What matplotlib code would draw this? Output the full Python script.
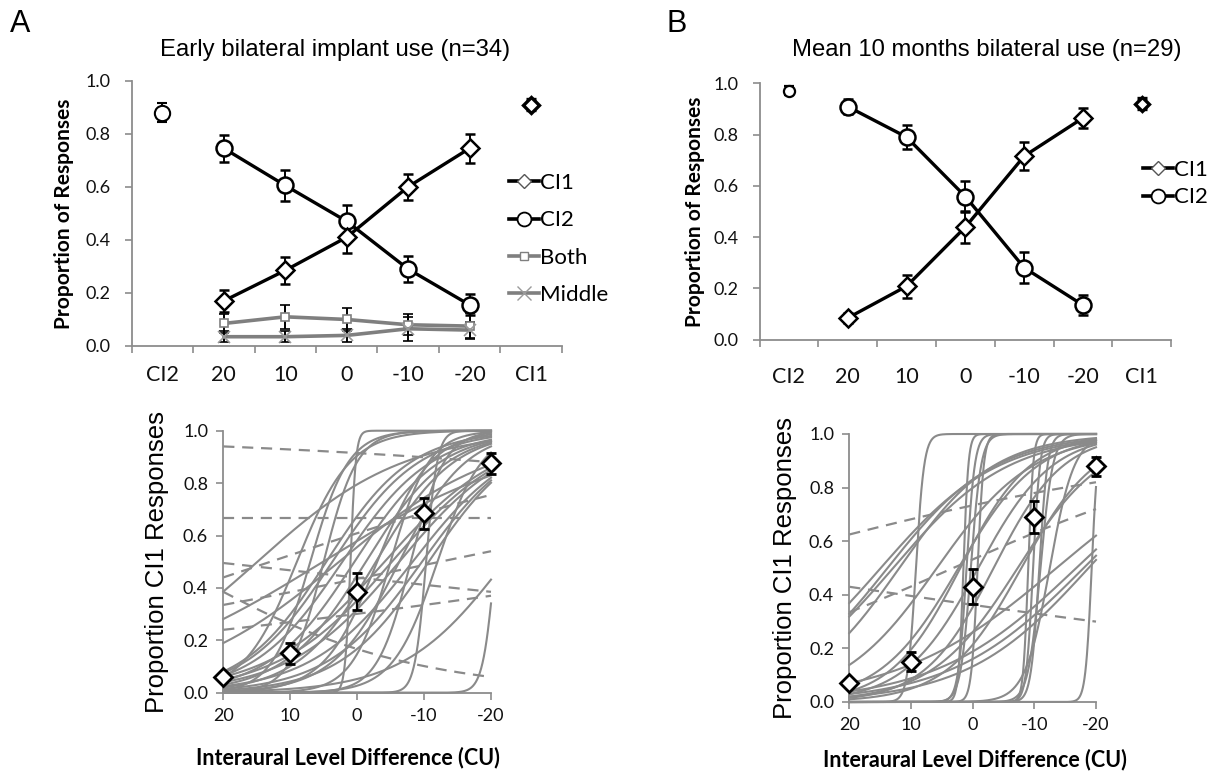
import numpy as np
import matplotlib
matplotlib.use("Agg")
import matplotlib.pyplot as plt
from matplotlib.lines import Line2D
from matplotlib.ticker import FixedLocator, FixedFormatter, NullFormatter, FormatStrFormatter

# ---------------------------------------------------------------- data
categories = ["CI2", "20", "10", "0", "-10", "-20", "CI1"]
ild_levels = [20, 10, 0, -10, -20]

# Panel A, response proportions per ILD (CU)
a_ci1 = [0.17, 0.285, 0.41, 0.60, 0.745]
a_ci1_err = [0.04, 0.05, 0.06, 0.05, 0.055]
a_ci2 = [0.745, 0.605, 0.47, 0.29, 0.155]
a_ci2_err = [0.05, 0.06, 0.06, 0.05, 0.04]
a_both = [0.085, 0.11, 0.10, 0.08, 0.075]
a_both_err = [0.035, 0.045, 0.045, 0.04, 0.05]
a_middle = [0.035, 0.035, 0.04, 0.065, 0.06]
a_middle_err = [0.02, 0.02, 0.025, 0.045, 0.03]
a_ci2_alone, a_ci2_alone_err = 0.88, 0.037
a_ci1_alone, a_ci1_alone_err = 0.91, 0.02

# Panel B, response proportions per ILD (CU)
b_ci1 = [0.084, 0.208, 0.439, 0.716, 0.865]
b_ci1_err = [0.02, 0.045, 0.064, 0.055, 0.04]
b_ci2 = [0.909, 0.79, 0.558, 0.28, 0.134]
b_ci2_err = [0.03, 0.047, 0.06, 0.06, 0.04]
b_ci2_alone, b_ci2_alone_err = 0.971, 0.018
b_ci1_alone, b_ci1_alone_err = 0.92, 0.022

# Group mean proportion of CI1 responses
a_mean = [0.06, 0.15, 0.385, 0.685, 0.875]
a_mean_err = [0.01, 0.04, 0.07, 0.06, 0.04]
b_mean = [0.07, 0.15, 0.43, 0.69, 0.88]
b_mean_err = [0.01, 0.035, 0.065, 0.06, 0.035]

# Individual logistic fits: 50% point (ILD, CU) and slope (per CU)
a_fit_mid = [14.9, 5.1, 2.7, 4.6, 3.7, 2.2, -4.1, -5.2, 0.4, -6.3, -1.3, -8.3,
             -2.8, -9.7, -10.7, -6.3, -22.1, 1.0, -10.3, -20.6, 7.0, 5.0,
             -5.0, -8.0, -3.0, -12.0, 9.0]
a_fit_slope = [0.091, 0.063, 0.084, 0.158, 0.154, 0.15, 0.114, 0.117, 0.156,
               0.121, 0.163, 0.13, 0.171, 0.141, 0.15, 0.201, 0.131, 2.5, 1.2,
               1.1, 0.35, 0.4, 0.35, 0.4, 0.25, 0.3, 0.25]
# Shallow fits: proportion at ILD 20 and at ILD -20
a_flat_start = [0.94, 0.665, 0.44, 0.335, 0.385, 0.495, 0.24]
a_flat_end = [0.88, 0.665, 0.755, 0.54, 0.06, 0.385, 0.37]

b_fit_mid = [14.9, 13.8, 12.9, 11.9, 5.8, -13.6, -16.8, -18.0, -18.8, 2.3, 2.0,
             -0.9, -7.3, -3.4, -7.9, 9.2, 1.5, 1.0, 0.3, -0.8, -9.0, -9.8,
             -11.0, -12.5, -10.8, -19.3]
b_fit_slope = [0.105, 0.115, 0.107, 0.131, 0.129, 0.077, 0.087, 0.092, 0.10,
               0.156, 0.177, 0.167, 0.143, 0.178, 0.165, 1.5, 2.5, 1.5, 1.2,
               2.0, 2.5, 1.8, 1.0, 0.5, 1.5, 2.0]
b_flat_start = [0.625, 0.43, 0.335]
b_flat_end = [0.82, 0.30, 0.72]

# ---------------------------------------------------------------- style
W, H = 1208, 771
CAL = "Lato"
ARIAL = "Liberation Sans"
GREY = "#8a8a8a"
SPINE = "#8c8c8c"
INK = "#111111"

fig = plt.figure(figsize=(W / 100, H / 100), dpi=100)


def px_axes(x0, y0, x1, y1):
    """Axes from pixel box (left, top, right, bottom)."""
    return fig.add_axes([x0 / W, 1 - y1 / H, (x1 - x0) / W, (y1 - y0) / H])


def style_common(ax):
    for s in ("top", "right"):
        ax.spines[s].set_visible(False)
    for s in ("left", "bottom"):
        ax.spines[s].set_color(SPINE)
        ax.spines[s].set_linewidth(1.3)
    ax.set_ylim(0, 1)
    ax.set_yticks(np.arange(0, 1.01, 0.2))
    ax.yaxis.set_major_formatter(FormatStrFormatter("%.1f"))


def style_top(ax, xlab_pad):
    style_common(ax)
    ax.set_xlim(0, 7)
    ax.xaxis.set_major_locator(FixedLocator(range(8)))
    ax.xaxis.set_major_formatter(NullFormatter())
    ax.xaxis.set_minor_locator(FixedLocator(np.arange(7) + 0.5))
    ax.xaxis.set_minor_formatter(FixedFormatter(categories))
    ax.tick_params(axis="x", which="major", length=5, width=1.2, color=SPINE)
    ax.tick_params(axis="x", which="minor", length=0, pad=xlab_pad,
                   labelsize=15.5, labelcolor=INK)
    ax.tick_params(axis="y", length=5, width=1.2, color=SPINE, pad=10,
                   labelsize=13, labelcolor=INK)
    for t in ax.get_xminorticklabels() + ax.get_yticklabels():
        t.set_fontfamily(CAL)
    ax.set_ylabel("Proportion of Responses", fontfamily=CAL, fontweight="bold",
                  fontsize=15)
    ax.yaxis.label.set_va("center")
    ax.yaxis.set_label_coords(-0.157, 0.5)


def line_err(ax, x, y, e, marker, color="black", lw=2.4, ms=10, mfc="white",
             mec="black", mew=1.8, zorder=3):
    ax.errorbar(x, y, yerr=e, color=color, lw=lw, marker=marker, ms=ms,
                mfc=mfc, mec=mec, mew=mew, ecolor="black", elinewidth=1.4,
                capsize=3.5, capthick=1.4, zorder=zorder, clip_on=False)


xc = np.arange(7) + 0.5
xi = xc[1:6]

# ---------------------------------------------------------------- panel A top
axA = px_axes(131.7, 80.7, 561.7, 346)
style_top(axA, 14)
line_err(axA, xi, a_both, a_both_err, "s", color="#7f7f7f", lw=2.6, ms=6,
         mec="#7f7f7f", mew=1.2, zorder=2)
line_err(axA, xi, a_middle, a_middle_err, "x", color="#7f7f7f", lw=2.6, ms=8,
         mec="#9a9a9a", mew=1.2, zorder=2)
line_err(axA, xi, a_ci2, a_ci2_err, "o", ms=11.5)
line_err(axA, xi, a_ci1, a_ci1_err, "D", ms=9.5)
line_err(axA, [xc[0]], [a_ci2_alone], [a_ci2_alone_err], "o", lw=0, ms=11,
         mew=1.5)
line_err(axA, [xc[6]], [a_ci1_alone], [a_ci1_alone_err], "D", lw=0, ms=8,
         mew=2.4)

hA = [Line2D([], [], color="black", lw=2.6, marker="D", ms=7, mfc="white",
             mec="#555555", mew=1.0),
      Line2D([], [], color="black", lw=2.6, marker="o", ms=10, mfc="white",
             mec="black", mew=1.3),
      Line2D([], [], color="#7f7f7f", lw=2.6, marker="s", ms=6, mfc="white",
             mec="#7f7f7f", mew=1.0),
      Line2D([], [], color="#7f7f7f", lw=2.6, marker="x", ms=10,
             mec="#9a9a9a", mew=1.0)]
axA.legend(hA, ["CI1", "CI2", "Both", "Middle"], loc="upper left",
           bbox_to_anchor=(509 / W, 1 - 173 / H),
           bbox_transform=fig.transFigure, frameon=False,
           prop={"family": CAL, "size": 16}, labelspacing=0.78,
           handlelength=1.35, handletextpad=0.05, borderpad=0,
           borderaxespad=0)

# ---------------------------------------------------------------- panel B top
axB = px_axes(759.5, 83.3, 1171.3, 339.5)
style_top(axB, 20)
line_err(axB, xi, b_ci2, b_ci2_err, "o", ms=11.5)
line_err(axB, xi, b_ci1, b_ci1_err, "D", ms=9.5)
line_err(axB, [xc[0]], [b_ci2_alone], [b_ci2_alone_err], "o", lw=0, ms=8,
         mew=1.6)
line_err(axB, [xc[6]], [b_ci1_alone], [b_ci1_alone_err], "D", lw=0, ms=7.5,
         mew=2.4)

axB.legend(hA[:2], ["CI1", "CI2"], loc="upper left",
           bbox_to_anchor=(1143 / W, 1 - 160 / H),
           bbox_transform=fig.transFigure, frameon=False,
           prop={"family": CAL, "size": 16}, labelspacing=0.33,
           handlelength=1.35, handletextpad=0.05, borderpad=0,
           borderaxespad=0)

# ---------------------------------------------------------------- bottom panels
ild = np.linspace(20, -20, 600)


def logistic(x, mid, slope):
    return 1.0 / (1.0 + np.exp(slope * (x - mid)))


def shallow_fit(x, y_start, y_end):
    l0 = np.log(y_start / (1 - y_start))   # logit at ILD 20
    l1 = np.log(y_end / (1 - y_end))       # logit at ILD -20
    slope = (l1 - l0) / 40.0
    if abs(slope) < 1e-9:
        return np.full_like(x, y_start)
    mid = (l0 + l1) / (2 * slope)
    return logistic(x, mid, slope)


def style_bottom(ax, xlab_x, xlab_y, ylab_x):
    style_common(ax)
    ax.set_xlim(20, -20)
    ax.set_xticks(ild_levels)
    ax.set_xticklabels([str(v) for v in ild_levels])
    ax.tick_params(axis="both", length=5, width=1.2, color=SPINE,
                   labelsize=13, labelcolor=INK)
    ax.tick_params(axis="x", pad=6)
    ax.tick_params(axis="y", pad=6)
    for t in ax.get_xticklabels() + ax.get_yticklabels():
        t.set_fontfamily(CAL)
    ax.set_xlabel("Interaural Level Difference (CU)", fontfamily=CAL,
                  fontweight="bold", fontsize=15.5)
    ax.xaxis.label.set_va("center")
    ax.xaxis.set_label_coords(xlab_x, xlab_y)
    ax.set_ylabel("Proportion CI1 Responses", fontfamily=ARIAL, fontsize=18.5)
    ax.yaxis.label.set_va("center")
    ax.yaxis.set_label_coords(ylab_x, 0.5)


def draw_fits(ax, mids, slopes, starts, ends, mean, mean_err):
    for m, k in zip(mids, slopes):
        ax.plot(ild, logistic(ild, m, k), color=GREY, lw=1.5, zorder=2,
                clip_on=False)
    for s, e in zip(starts, ends):
        ax.plot(ild, shallow_fit(ild, s, e), color=GREY, lw=1.6,
                ls=(0, (5, 3.5)), zorder=2, clip_on=False)
    ax.errorbar(ild_levels, mean, yerr=mean_err, color="black", lw=0,
                marker="D", ms=9, mfc="white", mec="black", mew=2.0,
                ecolor="black", elinewidth=1.6, capsize=3.5, capthick=1.6,
                zorder=4, clip_on=False)


axC = px_axes(223.3, 430.7, 491, 692.7)
style_bottom(axC, 0.466, -0.248, -0.248)
draw_fits(axC, a_fit_mid, a_fit_slope, a_flat_start, a_flat_end,
          a_mean, a_mean_err)

axD = px_axes(849.3, 434, 1096, 702)
style_bottom(axD, 0.51, -0.215, -0.26)
draw_fits(axD, b_fit_mid, b_fit_slope, b_flat_start, b_flat_end,
          b_mean, b_mean_err)

# ---------------------------------------------------------------- titles
fig.text(335 / W, 1 - 50 / H, "Early bilateral implant use (n=34)",
         fontfamily=ARIAL, fontsize=17.2, ha="center", va="center")
fig.text(987 / W, 1 - 50 / H, "Mean 10 months bilateral use (n=29)",
         fontfamily=ARIAL, fontsize=17.2, ha="center", va="center")
fig.text(20 / W, 1 - 24 / H, "A", fontfamily=ARIAL, fontsize=22,
         ha="center", va="center")
fig.text(677 / W, 1 - 24 / H, "B", fontfamily=ARIAL, fontsize=22,
         ha="center", va="center")

fig.savefig("out.png", dpi=100, facecolor="white")
